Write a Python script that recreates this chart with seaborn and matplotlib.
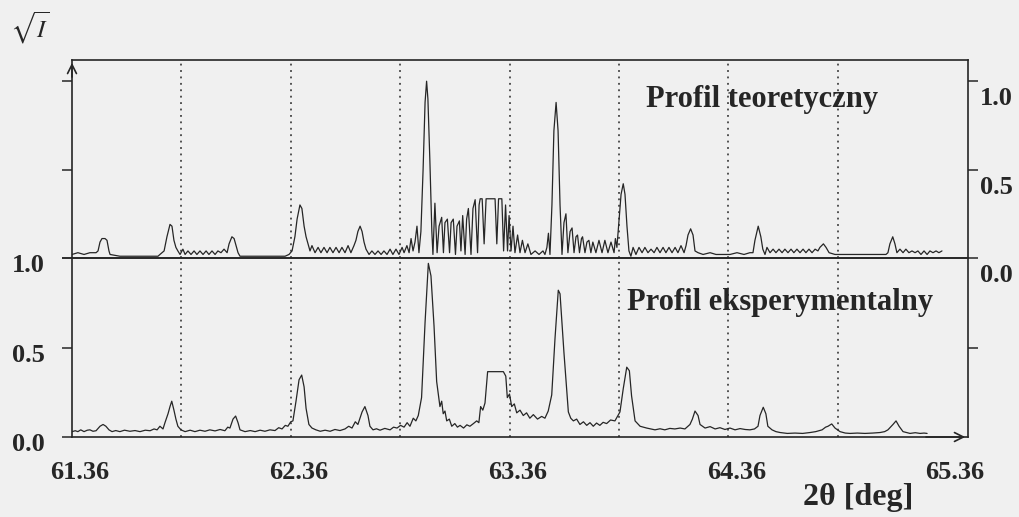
import matplotlib
matplotlib.use("Agg")
import matplotlib.pyplot as plt
import matplotlib.transforms as mtransforms
import seaborn as sns
import pandas as pd

# ---------------- data ----------------
x_ticks = [61.36, 62.36, 63.36, 64.36, 65.36]
x_tick_labels = ["61.36", "62.36", "63.36", "64.36", "65.36"]
y_ticks = [0.0, 0.5, 1.0]
y_tick_labels = ["0.0", "0.5", "1.0"]
marker_lines = [61.86, 62.36, 62.86, 63.36, 63.86, 64.36, 64.86]

theo_x = [
    61.360, 61.387, 61.415, 61.442, 61.470, 61.479, 61.488, 61.497, 61.511, 61.520,
    61.529, 61.534, 61.579, 61.671, 61.753, 61.762, 61.781, 61.794, 61.808, 61.817,
    61.826, 61.835, 61.844, 61.854, 61.867, 61.877, 61.890, 61.904, 61.918, 61.931,
    61.945, 61.959, 61.973, 61.986, 62.000, 62.014, 62.027, 62.041, 62.055, 62.069,
    62.078, 62.091, 62.101, 62.110, 62.119, 62.128, 62.197, 62.265, 62.334, 62.352,
    62.366, 62.379, 62.389, 62.402, 62.411, 62.421, 62.430, 62.439, 62.448, 62.457,
    62.471, 62.485, 62.498, 62.512, 62.526, 62.539, 62.553, 62.567, 62.581, 62.594,
    62.608, 62.622, 62.635, 62.649, 62.658, 62.667, 62.677, 62.686, 62.695, 62.704,
    62.718, 62.731, 62.745, 62.759, 62.773, 62.786, 62.800, 62.814, 62.827, 62.841,
    62.855, 62.869, 62.878, 62.891, 62.901, 62.910, 62.919, 62.928, 62.937, 62.946,
    62.955, 62.965, 62.974, 62.981, 62.987, 62.996, 63.005, 63.010, 63.019, 63.029,
    63.038, 63.050, 63.058, 63.065, 63.076, 63.086, 63.093, 63.103, 63.113, 63.120,
    63.131, 63.138, 63.146, 63.157, 63.164, 63.172, 63.184, 63.193, 63.203, 63.214,
    63.221, 63.226, 63.235, 63.244, 63.253, 63.294, 63.302, 63.310, 63.325, 63.333,
    63.342, 63.351, 63.358, 63.367, 63.376, 63.385, 63.397, 63.408, 63.419, 63.431,
    63.444, 63.458, 63.477, 63.495, 63.513, 63.522, 63.531, 63.538, 63.545, 63.554,
    63.563, 63.573, 63.582, 63.591, 63.600, 63.609, 63.618, 63.627, 63.637, 63.646,
    63.655, 63.664, 63.671, 63.680, 63.689, 63.694, 63.705, 63.714, 63.723, 63.732,
    63.741, 63.755, 63.769, 63.783, 63.796, 63.810, 63.824, 63.838, 63.844, 63.851,
    63.860, 63.870, 63.880, 63.888, 63.897, 63.906, 63.915, 63.925, 63.938, 63.952,
    63.966, 63.979, 63.993, 64.007, 64.021, 64.034, 64.048, 64.062, 64.075, 64.089,
    64.103, 64.117, 64.130, 64.144, 64.158, 64.167, 64.176, 64.188, 64.199, 64.208,
    64.222, 64.245, 64.277, 64.304, 64.331, 64.368, 64.400, 64.432, 64.459, 64.473,
    64.482, 64.497, 64.509, 64.518, 64.528, 64.537, 64.551, 64.565, 64.578, 64.592,
    64.606, 64.619, 64.633, 64.647, 64.660, 64.674, 64.688, 64.702, 64.715, 64.729,
    64.743, 64.757, 64.770, 64.779, 64.795, 64.807, 64.821, 64.848, 64.894, 64.939,
    64.985, 65.031, 65.081, 65.090, 65.099, 65.112, 65.122, 65.131, 65.145, 65.159,
    65.172, 65.186, 65.200, 65.214, 65.227, 65.241, 65.255, 65.269, 65.282, 65.296,
    65.310, 65.323, 65.337,
]
theo_y = [
    0.02, 0.03, 0.02, 0.03, 0.03, 0.04, 0.09, 0.11, 0.11, 0.10,
    0.04, 0.02, 0.01, 0.01, 0.01, 0.02, 0.04, 0.12, 0.19, 0.18,
    0.10, 0.06, 0.04, 0.02, 0.05, 0.02, 0.04, 0.02, 0.04, 0.02,
    0.04, 0.02, 0.04, 0.02, 0.04, 0.02, 0.04, 0.03, 0.05, 0.03,
    0.08, 0.12, 0.11, 0.07, 0.03, 0.01, 0.01, 0.01, 0.01, 0.02,
    0.04, 0.12, 0.22, 0.30, 0.28, 0.18, 0.12, 0.08, 0.04, 0.07,
    0.03, 0.06, 0.03, 0.06, 0.03, 0.06, 0.03, 0.06, 0.03, 0.06,
    0.03, 0.07, 0.03, 0.07, 0.10, 0.15, 0.18, 0.15, 0.09, 0.05,
    0.02, 0.04, 0.02, 0.04, 0.02, 0.04, 0.02, 0.05, 0.02, 0.05,
    0.02, 0.06, 0.03, 0.07, 0.03, 0.11, 0.04, 0.09, 0.18, 0.03,
    0.15, 0.50, 0.88, 1.00, 0.90, 0.55, 0.15, 0.02, 0.31, 0.03,
    0.18, 0.23, 0.03, 0.20, 0.22, 0.03, 0.20, 0.22, 0.02, 0.18,
    0.21, 0.04, 0.24, 0.02, 0.22, 0.28, 0.02, 0.28, 0.33, 0.03,
    0.30, 0.335, 0.335, 0.08, 0.335, 0.335, 0.08, 0.335, 0.335, 0.04,
    0.30, 0.04, 0.24, 0.04, 0.18, 0.03, 0.13, 0.03, 0.10, 0.03,
    0.08, 0.02, 0.04, 0.02, 0.04, 0.02, 0.06, 0.14, 0.02, 0.30,
    0.72, 0.88, 0.72, 0.30, 0.02, 0.20, 0.25, 0.03, 0.15, 0.17,
    0.03, 0.12, 0.13, 0.03, 0.11, 0.12, 0.03, 0.09, 0.10, 0.03,
    0.09, 0.03, 0.10, 0.03, 0.10, 0.03, 0.09, 0.03, 0.11, 0.06,
    0.20, 0.36, 0.42, 0.36, 0.18, 0.04, 0.01, 0.06, 0.02, 0.06,
    0.03, 0.06, 0.03, 0.05, 0.03, 0.06, 0.03, 0.06, 0.03, 0.06,
    0.03, 0.06, 0.03, 0.07, 0.03, 0.07, 0.13, 0.165, 0.13, 0.04,
    0.03, 0.02, 0.03, 0.02, 0.02, 0.02, 0.03, 0.02, 0.03, 0.03,
    0.10, 0.18, 0.12, 0.05, 0.02, 0.06, 0.03, 0.05, 0.03, 0.05,
    0.03, 0.05, 0.03, 0.05, 0.03, 0.05, 0.03, 0.05, 0.03, 0.05,
    0.03, 0.05, 0.04, 0.06, 0.08, 0.06, 0.03, 0.02, 0.02, 0.02,
    0.02, 0.02, 0.02, 0.03, 0.08, 0.12, 0.08, 0.03, 0.05, 0.03,
    0.05, 0.03, 0.04, 0.03, 0.04, 0.02, 0.04, 0.02, 0.04, 0.03,
    0.04, 0.03, 0.04,
]

exp_x = [
    61.360, 61.375, 61.387, 61.400, 61.415, 61.430, 61.442, 61.456, 61.470, 61.488,
    61.502, 61.515, 61.529, 61.543, 61.560, 61.579, 61.600, 61.625, 61.648, 61.671,
    61.695, 61.717, 61.735, 61.749, 61.762, 61.776, 61.785, 61.799, 61.808, 61.816,
    61.826, 61.835, 61.844, 61.858, 61.877, 61.900, 61.922, 61.945, 61.968, 61.990,
    62.014, 62.037, 62.059, 62.072, 62.082, 62.096, 62.108, 62.119, 62.128, 62.151,
    62.175, 62.197, 62.220, 62.242, 62.265, 62.288, 62.305, 62.320, 62.335, 62.347,
    62.360, 62.370, 62.384, 62.398, 62.410, 62.421, 62.430, 62.443, 62.457, 62.475,
    62.495, 62.517, 62.540, 62.562, 62.585, 62.608, 62.625, 62.640, 62.655, 62.667,
    62.686, 62.699, 62.713, 62.722, 62.736, 62.752, 62.768, 62.790, 62.814, 62.830,
    62.846, 62.862, 62.878, 62.892, 62.905, 62.920, 62.932, 62.943, 62.958, 62.974,
    62.989, 63.001, 63.015, 63.027, 63.042, 63.050, 63.057, 63.065, 63.073, 63.085,
    63.096, 63.110, 63.122, 63.134, 63.150, 63.165, 63.179, 63.195, 63.210, 63.220,
    63.228, 63.238, 63.248, 63.260, 63.332, 63.343, 63.350, 63.360, 63.370, 63.382,
    63.393, 63.408, 63.423, 63.438, 63.453, 63.469, 63.488, 63.507, 63.522, 63.537,
    63.553, 63.568, 63.583, 63.591, 63.609, 63.629, 63.640, 63.652, 63.667, 63.682,
    63.698, 63.713, 63.728, 63.743, 63.758, 63.773, 63.788, 63.804, 63.822, 63.842,
    63.865, 63.880, 63.896, 63.908, 63.918, 63.934, 63.957, 63.972, 63.987, 64.005,
    64.025, 64.048, 64.070, 64.093, 64.116, 64.140, 64.162, 64.185, 64.196, 64.208,
    64.222, 64.231, 64.254, 64.277, 64.300, 64.322, 64.345, 64.368, 64.391, 64.414,
    64.437, 64.459, 64.480, 64.496, 64.505, 64.520, 64.532, 64.541, 64.560, 64.578,
    64.597, 64.630, 64.665, 64.700, 64.734, 64.760, 64.789, 64.805, 64.816, 64.833,
    64.848, 64.871, 64.895, 64.917, 64.950, 64.985, 65.020, 65.054, 65.075, 65.090,
    65.113, 65.127, 65.141, 65.159, 65.175, 65.191, 65.215, 65.237, 65.255, 65.269,
]
exp_y = [
    0.030, 0.035, 0.030, 0.040, 0.030, 0.038, 0.040, 0.032, 0.035, 0.060,
    0.070, 0.060, 0.040, 0.030, 0.036, 0.030, 0.038, 0.032, 0.036, 0.030,
    0.038, 0.035, 0.045, 0.040, 0.060, 0.045, 0.080, 0.130, 0.170, 0.200,
    0.150, 0.100, 0.060, 0.040, 0.030, 0.038, 0.030, 0.038, 0.032, 0.040,
    0.034, 0.042, 0.035, 0.055, 0.050, 0.100, 0.117, 0.080, 0.040, 0.030,
    0.036, 0.030, 0.038, 0.032, 0.040, 0.036, 0.052, 0.045, 0.065, 0.060,
    0.085, 0.090, 0.200, 0.320, 0.346, 0.280, 0.160, 0.070, 0.050, 0.040,
    0.032, 0.038, 0.032, 0.042, 0.036, 0.045, 0.060, 0.050, 0.085, 0.070,
    0.140, 0.170, 0.120, 0.060, 0.040, 0.046, 0.038, 0.048, 0.040, 0.055,
    0.050, 0.065, 0.055, 0.080, 0.060, 0.105, 0.090, 0.120, 0.220, 0.640,
    0.970, 0.900, 0.620, 0.310, 0.170, 0.200, 0.130, 0.145, 0.090, 0.100,
    0.060, 0.075, 0.055, 0.065, 0.050, 0.068, 0.060, 0.075, 0.090, 0.080,
    0.170, 0.150, 0.190, 0.365, 0.365, 0.340, 0.220, 0.240, 0.170, 0.185,
    0.135, 0.150, 0.120, 0.135, 0.105, 0.125, 0.100, 0.115, 0.105, 0.145,
    0.235, 0.550, 0.820, 0.800, 0.470, 0.140, 0.105, 0.090, 0.100, 0.070,
    0.085, 0.065, 0.080, 0.060, 0.078, 0.065, 0.082, 0.075, 0.095, 0.090,
    0.140, 0.270, 0.390, 0.370, 0.230, 0.090, 0.060, 0.055, 0.050, 0.045,
    0.040, 0.046, 0.040, 0.048, 0.045, 0.050, 0.045, 0.070, 0.100, 0.145,
    0.120, 0.070, 0.050, 0.058, 0.045, 0.052, 0.042, 0.050, 0.040, 0.047,
    0.042, 0.040, 0.045, 0.060, 0.120, 0.166, 0.130, 0.060, 0.040, 0.030,
    0.025, 0.020, 0.022, 0.020, 0.025, 0.030, 0.040, 0.055, 0.060, 0.073,
    0.050, 0.030, 0.022, 0.020, 0.022, 0.020, 0.022, 0.025, 0.030, 0.040,
    0.070, 0.090, 0.060, 0.030, 0.025, 0.020, 0.024, 0.020, 0.022, 0.020,
]

title_theo = "Profil teoretyczny"
title_exp = "Profil eksperymentalny"
x_label = "2θ [deg]"
y_label = r"$\sqrt{I}$"

# ---------------- styling ----------------
sns.set_theme(style="white")
plt.rcParams["font.family"] = ["Liberation Serif", "DejaVu Serif"]
plt.rcParams["mathtext.fontset"] = "stix"

BG = "#f0f0f0"
INK = "#262626"

fig = plt.figure(figsize=(10.19, 5.17), dpi=100, facecolor=BG)

L, W = 72 / 1019, (968 - 72) / 1019
ax_t = fig.add_axes([L, 1 - 258 / 517, W, (258 - 60) / 517])
ax_b = fig.add_axes([L, 1 - 437 / 517, W, (437 - 258) / 517])
for ax in (ax_t, ax_b):
    ax.set_facecolor("none")
    ax.patch.set_alpha(0)
    for s in ax.spines.values():
        s.set_color(INK)
        s.set_linewidth(1.2)
    ax.set_xlim(61.36, 65.456)
    for xv in marker_lines:
        ax.axvline(xv, color=INK, lw=1.1, linestyle=(0, (1.2, 3.0)), zorder=1)

df_t = pd.DataFrame({"x": theo_x, "y": theo_y})
df_e = pd.DataFrame({"x": exp_x, "y": exp_y})
sns.lineplot(data=df_t, x="x", y="y", ax=ax_t, color=INK, lw=0.9,
             estimator=None, sort=False, zorder=3)
sns.lineplot(data=df_e, x="x", y="y", ax=ax_b, color=INK, lw=0.9,
             estimator=None, sort=False, zorder=3)

tick_font = dict(family="Liberation Serif", weight="bold", size=19)

# top panel
ax_t.set_ylim(0, 1.12)
ax_t.set_xticks([])
ax_t.set_yticks(y_ticks)
ax_t.set_yticklabels(y_tick_labels, fontdict=tick_font, color=INK)
ax_t.tick_params(axis="y", left=True, right=True, labelleft=False, labelright=True,
                 direction="out", length=7.5, width=1.1, color=INK, pad=1)
down = mtransforms.ScaledTranslation(0, -6 / 100, fig.dpi_scale_trans)
for lbl in ax_t.get_yticklabels():
    lbl.set_va("top")
    lbl.set_transform(lbl.get_transform() + down)
ax_t.set_xlabel("")
ax_t.set_ylabel("")

# bottom panel
ax_b.set_ylim(0, 1.0)
ax_b.set_yticks(y_ticks)
ax_b.set_yticklabels(y_tick_labels, fontdict=tick_font, color=INK)
ax_b.set_xticks(x_ticks)
ax_b.set_xticklabels(x_tick_labels, fontdict=tick_font, color=INK)
ax_b.tick_params(axis="both", direction="out", length=7.5, width=1.1, color=INK)
ax_b.tick_params(axis="y", pad=12)
ax_b.tick_params(axis="x", pad=10)
right = mtransforms.ScaledTranslation(8 / 100, 0, fig.dpi_scale_trans)
for lbl in ax_b.get_xticklabels():
    lbl.set_transform(lbl.get_transform() + right)
ydown = mtransforms.ScaledTranslation(0, -5 / 100, fig.dpi_scale_trans)
for lbl in ax_b.get_yticklabels():
    lbl.set_transform(lbl.get_transform() + ydown)
ax_b.set_xlabel("")
ax_b.set_ylabel("")

ax_br = ax_b.twinx()
ax_br.set_ylim(0, 1.0)
ax_br.set_yticks([0.5])
ax_br.set_yticklabels([])
ax_br.tick_params(axis="y", direction="out", length=7.5, width=1.1, color=INK)
for s in ax_br.spines.values():
    s.set_visible(False)

# arrows on axes
ax_t.annotate("", xy=(0, 1.0), xytext=(0, 0.9), xycoords="axes fraction",
              arrowprops=dict(arrowstyle="->", lw=1.2, color=INK, mutation_scale=16))
ax_b.annotate("", xy=(1.0, 0), xytext=(0.95, 0), xycoords="axes fraction",
              arrowprops=dict(arrowstyle="->", lw=1.2, color=INK, mutation_scale=16))

# texts
ax_t.text(0.77, 0.80, title_theo, transform=ax_t.transAxes, ha="center", va="center",
          fontsize=22, fontweight="bold", color=INK, family="Liberation Serif")
ax_b.text(0.79, 0.75, title_exp, transform=ax_b.transAxes, ha="center", va="center",
          fontsize=22, fontweight="bold", color=INK, family="Liberation Serif")
fig.text(858 / 1019, 1 - 498 / 517, x_label, ha="center", va="center",
         fontsize=23, fontweight="bold", color=INK, family="Liberation Serif")
fig.text(10 / 1019, 1 - 28 / 517, y_label, ha="left", va="center",
         fontsize=18, color=INK)

fig.savefig("out.png", dpi=100, facecolor=BG)
